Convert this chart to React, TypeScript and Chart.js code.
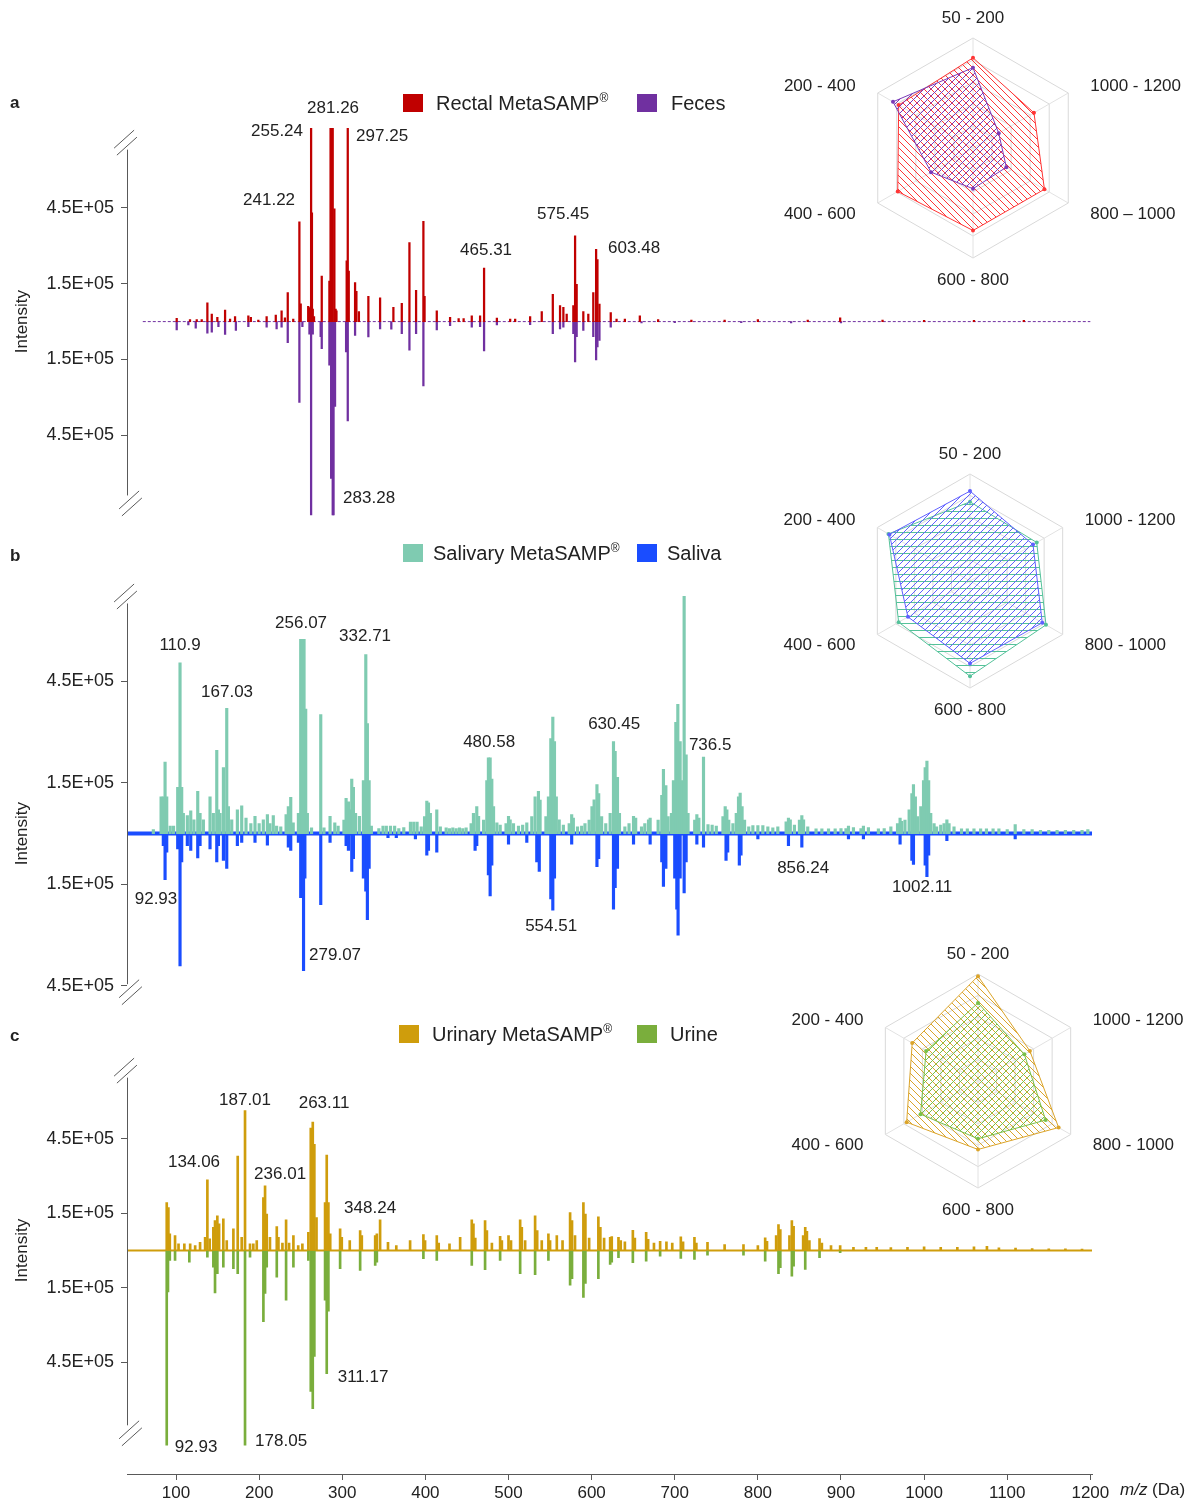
import React, { useEffect, useRef } from 'react';
import { Chart, registerables } from 'chart.js';

Chart.register(...registerables);

const FONT = '"Liberation Sans", Arial, Helvetica, sans-serif';
Chart.defaults.font.family = FONT;
Chart.defaults.color = '#222';

type Pair = [number, number];
type Label = [string, number, number];

// ---------- shared m/z axis ----------
const MZ_MIN = 41;
const MZ_MAX = 1202;
const MZ_TICKS = [100, 200, 300, 400, 500, 600, 700, 800, 900, 1000, 1100, 1200];
const Y_TICKS = [-4.5e5, -1.5e5, 1.5e5, 4.5e5];

// ---------- colours ----------
const RECTAL_COLOR = '#c00000';
const FECES_COLOR = '#7030a0';
const SALIVARY_COLOR = '#7fcbb1';
const SALIVA_COLOR = '#1a4dff';
const URINARY_COLOR = '#cf9d0c';
const URINE_COLOR = '#7aae3c';

// ---------- panel a: Rectal MetaSAMP (up) vs Feces (down), [m/z, intensity] ----------
const rectalPeaks: Pair[] = [
  [100.8, 0.13e5], [116.8, 0.08e5], [124.9, 0.08e5], [130.9, 0.08e5], [137.7, 0.74e5], [143, 0.3e5],
  [149.7, 0.17e5], [159, 0.46e5], [165, 0.1e5], [171, 0.2e5], [187, 0.23e5], [190, 0.17e5], [199, 0.06e5],
  [209, 0.2e5], [220, 0.26e5], [227, 0.43e5], [231, 0.15e5], [234.4, 1.15e5], [241, 0.1e5], [248.4, 3.95e5],
  [250, 0.7e5], [259, 0.6e5], [260.5, 0.55e5], [262.5, 9.2e5], [263.5, 4.3e5], [264.5, 0.5e5], [266, 0.2e5],
  [275.3, 1.8e5], [284.5, 1.6e5], [285.9, 9.2e5], [287.1, 9.2e5], [288.5, 9.2e5], [290.5, 4.46e5], [292, 0.5e5],
  [293, 0.43e5], [305.3, 2.4e5], [306.6, 9.2e5], [307.8, 2.0e5], [315.4, 1.54e5], [317, 1.2e5], [320, 0.4e5],
  [331.4, 1.0e5], [345.5, 0.94e5], [361.5, 0.56e5], [371.6, 0.72e5], [380.8, 3.12e5], [388.8, 1.24e5],
  [397.6, 3.97e5], [399, 1.0e5], [413.7, 0.43e5], [429.7, 0.17e5], [440, 0.12e5], [446, 0.12e5], [455.8, 0.23e5],
  [465.8, 0.23e5], [470.6, 2.12e5], [486, 0.14e5], [502, 0.1e5], [508, 0.1e5], [526, 0.2e5], [540, 0.4e5],
  [553.3, 1.08e5], [562, 0.63e5], [566, 0.56e5], [570, 0.3e5], [578, 0.63e5], [580.1, 3.39e5], [582, 1.47e5],
  [590, 0.4e5], [596, 0.3e5], [602, 1.15e5], [605.4, 2.86e5], [607, 2.45e5], [609.4, 0.69e5], [623, 0.36e5],
  [630, 0.1e5], [640, 0.1e5], [658, 0.23e5], [680, 0.08e5], [720, 0.06e5], [760, 0.06e5], [800, 0.08e5],
  [860, 0.06e5], [899, 0.15e5], [950, 0.06e5], [1000, 0.05e5], [1060, 0.05e5], [1120, 0.05e5],
];
const fecesPeaks: Pair[] = [
  [100.8, 0.33e5], [114.8, 0.13e5], [123.7, 0.26e5], [137.7, 0.46e5], [143, 0.42e5], [151, 0.2e5], [159, 0.51e5],
  [172, 0.35e5], [187, 0.2e5], [209, 0.22e5], [221, 0.29e5], [227, 0.22e5], [234.4, 0.83e5], [248.4, 3.2e5],
  [252, 0.2e5], [260.5, 0.5e5], [261.3, 0.48e5], [262.5, 9.2e5], [264.5, 0.5e5], [274, 0.6e5], [275.3, 1.07e5],
  [284.5, 1.72e5], [286.6, 6.2e5], [288.5, 9.2e5], [289.5, 9.2e5], [291.3, 3.35e5], [304.6, 1.2e5], [306.6, 3.93e5],
  [315.4, 0.55e5], [331.4, 0.61e5], [345.5, 0.29e5], [359, 0.3e5], [371.6, 0.48e5], [380.8, 1.13e5], [388.8, 0.48e5],
  [397.6, 2.54e5], [413.7, 0.33e5], [429.7, 0.16e5], [455.8, 0.22e5], [465.8, 0.2e5], [470.6, 1.16e5], [486, 0.13e5],
  [526, 0.12e5], [553.3, 0.48e5], [562, 0.29e5], [566, 0.22e5], [578, 0.48e5], [580.1, 1.59e5], [582, 0.6e5],
  [590, 0.35e5], [602, 0.6e5], [605.4, 1.52e5], [607, 1.0e5], [609.4, 0.74e5], [623, 0.22e5], [660, 0.05e5],
  [700, 0.04e5], [780, 0.04e5], [840, 0.05e5], [900, 0.05e5],
];
const baselineA: Pair[] = [[60, 0], [1200, 0]];
const labelsA: Label[] = [
  ['281.26', 288.9, 8.44e5], ['255.24', 221.5, 7.54e5], ['297.25', 347.9, 7.34e5], ['241.22', 211.9, 4.8e5],
  ['465.31', 473, 2.81e5], ['575.45', 565.7, 4.26e5], ['603.48', 651.1, 2.89e5], ['283.28', 332.3, -6.99e5],
];

// ---------- panel b: Salivary MetaSAMP (up) vs Saliva (down) ----------
const salivaryPeaks: Pair[] = [
  [72.7, 0.12e5], [82, 1.09e5], [84.7, 1.09e5], [86.8, 2.11e5], [88.8, 1.09e5], [93, 0.22e5], [97, 0.22e5],
  [102, 1.37e5], [104.8, 5.05e5], [106.8, 1.37e5], [108.8, 0.6e5], [113.6, 0.53e5], [117.7, 0.67e5], [121.5, 0.41e5],
  [126.1, 1.25e5], [128.9, 0.6e5], [132.9, 0.41e5], [140.9, 1.09e5], [144.9, 0.6e5], [149, 2.46e5], [151, 0.7e5],
  [153, 0.6e5], [157, 1.95e5], [161, 3.7e5], [163, 0.8e5], [167, 0.41e5], [173.8, 0.7e5], [179, 0.82e5],
  [184.2, 0.46e5], [190, 0.3e5], [195, 0.51e5], [200, 0.3e5], [205, 0.41e5], [209.9, 0.56e5], [213, 0.3e5],
  [217, 0.53e5], [221, 0.22e5], [226, 0.2e5], [232.4, 0.56e5], [235.1, 0.8e5], [238, 1.07e5], [241, 0.32e5],
  [247.2, 0.6e5], [250, 5.74e5], [251.3, 5.74e5], [252.5, 5.74e5], [254, 5.74e5], [256, 3.68e5], [258, 0.6e5],
  [263, 0.17e5], [274.1, 3.52e5], [278, 0.17e5], [285.3, 0.51e5], [291, 0.32e5], [295, 0.22e5], [302, 0.4e5],
  [304.6, 1.04e5], [307.4, 0.94e5], [309.4, 0.7e5], [311.4, 1.61e5], [313.4, 1.37e5], [316, 0.6e5], [320.6, 0.51e5],
  [325.4, 1.57e5], [328.3, 5.29e5], [330.2, 3.25e5], [332.3, 1.57e5], [335, 0.22e5], [344, 0.15e5], [349, 0.22e5],
  [353, 0.22e5], [358, 0.22e5], [363, 0.22e5], [368, 0.15e5], [374, 0.18e5], [382, 0.34e5], [386, 0.34e5],
  [390, 0.34e5], [395, 0.2e5], [399, 0.5e5], [401.7, 0.96e5], [403.7, 0.91e5], [406, 0.6e5], [413.7, 0.7e5],
  [418, 0.2e5], [425, 0.17e5], [429, 0.15e5], [433, 0.17e5], [437, 0.15e5], [441, 0.17e5], [445, 0.15e5],
  [449, 0.17e5], [455, 0.3e5], [457.8, 0.6e5], [461.8, 0.8e5], [464, 0.51e5], [470, 0.4e5], [473.9, 1.57e5],
  [475.8, 2.24e5], [477.9, 2.24e5], [479.9, 1.61e5], [482, 0.8e5], [486, 0.32e5], [490, 0.25e5], [497, 0.3e5],
  [500, 0.51e5], [502, 0.41e5], [506, 0.3e5], [512, 0.22e5], [517, 0.25e5], [522, 0.32e5], [528, 0.5e5],
  [532, 1.09e5], [536, 1.25e5], [538, 0.99e5], [545, 0.5e5], [548, 1.09e5], [550.9, 2.81e5], [553.3, 3.44e5],
  [555.3, 2.72e5], [557.5, 1.09e5], [561, 0.41e5], [566, 0.25e5], [573, 0.3e5], [576, 0.56e5], [578, 0.46e5],
  [583, 0.2e5], [588, 0.22e5], [592, 0.3e5], [597, 0.4e5], [600.4, 0.8e5], [603, 1.0e5], [606.4, 1.45e5],
  [608.5, 1.18e5], [612, 0.5e5], [617, 0.3e5], [622.3, 0.6e5], [626.3, 2.72e5], [628.3, 2.43e5], [631.1, 1.66e5],
  [633.5, 0.6e5], [640, 0.2e5], [645, 0.3e5], [650.4, 0.51e5], [653, 0.46e5], [660, 0.2e5], [664, 0.3e5],
  [668.4, 0.41e5], [670.4, 0.46e5], [680, 0.4e5], [684.4, 1.13e5], [686.4, 1.9e5], [689.3, 1.42e5], [692, 0.5e5],
  [696, 0.6e5], [698.4, 1.57e5], [701.3, 3.29e5], [703.7, 3.82e5], [706.5, 2.72e5], [708.5, 1.57e5], [711.3, 7.01e5],
  [713.7, 2.33e5], [716, 0.6e5], [724, 0.4e5], [726.6, 0.56e5], [729, 0.46e5], [734.6, 2.26e5], [740, 0.27e5],
  [745, 0.25e5], [750, 0.22e5], [758, 0.5e5], [760.7, 0.8e5], [762.7, 0.7e5], [765, 0.4e5], [770, 0.3e5],
  [774, 0.6e5], [776.7, 1.09e5], [778.7, 1.2e5], [781, 0.8e5], [784, 0.4e5], [789, 0.2e5], [794, 0.24e5],
  [800, 0.24e5], [806, 0.24e5], [812, 0.2e5], [818, 0.17e5], [824, 0.2e5], [834, 0.35e5], [836.8, 0.46e5],
  [839, 0.41e5], [844, 0.25e5], [850, 0.4e5], [852.9, 0.53e5], [855, 0.41e5], [860, 0.2e5], [870, 0.14e5],
  [877, 0.14e5], [885, 0.14e5], [893, 0.14e5], [900, 0.15e5], [906, 0.15e5], [909, 0.22e5], [915, 0.18e5],
  [924, 0.15e5], [927, 0.22e5], [933, 0.18e5], [945, 0.14e5], [952, 0.15e5], [960, 0.2e5], [968, 0.3e5],
  [971.1, 0.46e5], [973, 0.36e5], [977, 0.4e5], [982, 0.7e5], [985.3, 1.18e5], [987.2, 1.45e5], [989.5, 1.09e5],
  [992, 0.5e5], [996, 0.8e5], [999.3, 1.57e5], [1001.3, 1.95e5], [1003.4, 2.14e5], [1005.5, 1.57e5], [1008, 0.6e5],
  [1012, 0.3e5], [1015, 0.2e5], [1020, 0.25e5], [1024, 0.3e5], [1027.4, 0.41e5], [1030, 0.3e5], [1036, 0.2e5],
  [1045, 0.14e5], [1052, 0.14e5], [1060, 0.14e5], [1068, 0.14e5], [1075, 0.14e5], [1083, 0.14e5], [1090, 0.14e5],
  [1100, 0.12e5], [1109.6, 0.27e5], [1120, 0.12e5], [1130, 0.12e5], [1140, 0.1e5], [1150, 0.1e5], [1160, 0.1e5],
  [1170, 0.1e5], [1180, 0.1e5], [1190, 0.1e5], [1197, 0.12e5],
];
const salivaPeaks: Pair[] = [
  [84.7, 0.36e5], [86.8, 1.36e5], [88.8, 0.55e5], [102, 0.45e5], [104.8, 3.91e5], [106.8, 0.84e5], [113.6, 0.36e5],
  [117.7, 0.5e5], [126.1, 0.72e5], [128.9, 0.36e5], [140.9, 0.45e5], [149, 0.84e5], [151, 0.36e5], [157, 0.79e5],
  [161, 1.03e5], [173.8, 0.36e5], [179, 0.26e5], [195, 0.26e5], [209.9, 0.34e5], [235.1, 0.4e5], [238, 0.5e5],
  [247.2, 0.26e5], [250, 1.89e5], [252.5, 1.89e5], [253.4, 4.05e5], [255, 1.32e5], [274.1, 2.1e5], [285.3, 0.26e5],
  [304.6, 0.36e5], [307.4, 0.5e5], [311.4, 1.12e5], [313.4, 0.74e5], [325.4, 1.32e5], [328.3, 1.7e5], [330.2, 2.54e5],
  [332.3, 1.03e5], [355, 0.12e5], [365, 0.12e5], [388, 0.16e5], [401.7, 0.64e5], [403.7, 0.5e5], [413.7, 0.55e5],
  [459.8, 0.5e5], [461.8, 0.36e5], [475.8, 1.22e5], [477.9, 1.84e5], [479.9, 0.93e5], [500, 0.31e5], [522, 0.26e5],
  [534, 0.84e5], [537, 1.12e5], [550.9, 1.93e5], [553.3, 2.26e5], [555.3, 1.32e5], [576, 0.31e5], [606.4, 0.98e5],
  [608.5, 0.74e5], [626.3, 2.23e5], [628.3, 1.6e5], [631.1, 1.03e5], [650.4, 0.31e5], [670.4, 0.31e5], [684.4, 0.84e5],
  [686.4, 1.56e5], [689.3, 1.03e5], [700, 1.32e5], [702.5, 2.23e5], [704, 3.0e5], [706.5, 1.32e5], [711.3, 1.75e5],
  [713.7, 0.84e5], [726.6, 0.31e5], [734.6, 0.4e5], [761.7, 0.79e5], [763.7, 0.55e5], [777.7, 0.93e5], [779.7, 0.64e5],
  [800, 0.16e5], [836.8, 0.36e5], [852.9, 0.4e5], [909, 0.16e5], [927, 0.16e5], [971.1, 0.31e5], [985.3, 0.79e5],
  [987.2, 0.91e5], [1001.3, 0.93e5], [1003.4, 1.27e5], [1005.5, 0.64e5], [1027.4, 0.21e5], [1109.6, 0.16e5],
];
const baselineB: Pair[] = [[MZ_MIN, 0], [MZ_MAX, 0]];
const labelsB: Label[] = [
  ['110.9', 104.8, 5.56e5], ['167.03', 161.4, 4.18e5], ['256.07', 250.4, 6.22e5], ['332.71', 327.4, 5.82e5],
  ['480.58', 476.7, 2.71e5], ['630.45', 627.1, 3.23e5], ['736.5', 742.6, 2.62e5], ['92.93', 75.9, -1.93e5],
  ['279.07', 291.3, -3.6e5], ['554.51', 551.3, -2.74e5], ['856.24', 854.5, -1.04e5], ['1002.11', 997.7, -1.59e5],
];

// ---------- panel c: Urinary MetaSAMP (up) vs Urine (down) ----------
const urinaryPeaks: Pair[] = [
  [88.8, 1.93e5], [90.8, 1.73e5], [92.5, 0.67e5], [98.8, 0.6e5], [103, 0.27e5], [110, 0.27e5], [117, 0.27e5],
  [123, 0.2e5], [128.9, 0.33e5], [135, 0.53e5], [137.7, 2.84e5], [140.5, 0.47e5], [144.9, 0.93e5], [146.9, 1.2e5],
  [149.7, 1.4e5], [151.8, 1.07e5], [156.9, 1.27e5], [161, 0.4e5], [169, 0.87e5], [174.2, 3.8e5], [179, 0.53e5],
  [183, 5.63e5], [189, 0.27e5], [193, 0.27e5], [197.1, 0.4e5], [205.1, 2.13e5], [207.1, 2.6e5], [209.1, 1.47e5],
  [213, 0.53e5], [221.2, 0.96e5], [223.2, 0.53e5], [228, 0.3e5], [232.4, 1.23e5], [236, 0.3e5], [241.2, 0.6e5],
  [247, 0.2e5], [252, 0.27e5], [259.2, 0.73e5], [262.1, 4.93e5], [264.5, 5.17e5], [266.4, 4.27e5], [269, 1.33e5],
  [279.3, 1.93e5], [281.3, 3.84e5], [283.3, 1.93e5], [285.5, 0.67e5], [297.4, 0.87e5], [299.4, 0.53e5], [309, 0.4e5],
  [321.5, 0.8e5], [323.5, 0.6e5], [339.6, 0.6e5], [341.6, 0.67e5], [345.5, 1.23e5], [355, 0.33e5], [365, 0.2e5],
  [381.6, 0.4e5], [397.6, 0.64e5], [399.6, 0.4e5], [413.7, 0.6e5], [416, 0.3e5], [429, 0.27e5], [441.8, 0.53e5],
  [455.8, 1.23e5], [457.8, 1.07e5], [460, 0.5e5], [471.8, 1.2e5], [474, 0.8e5], [480, 0.3e5], [489.9, 0.57e5],
  [492, 0.4e5], [500, 0.6e5], [503, 0.4e5], [514, 1.23e5], [516, 0.93e5], [520, 0.4e5], [532, 1.4e5], [534.5, 0.8e5],
  [540, 0.4e5], [548, 0.67e5], [550, 0.4e5], [558.1, 0.6e5], [565, 0.4e5], [574.1, 1.53e5], [576.4, 1.2e5],
  [580, 0.6e5], [590.1, 1.93e5], [592.5, 1.47e5], [597, 0.5e5], [608.1, 1.36e5], [610.5, 0.93e5], [615, 0.5e5],
  [622.3, 0.53e5], [624.2, 0.56e5], [632.3, 0.53e5], [635, 0.4e5], [640, 0.35e5], [649.6, 0.81e5], [652, 0.5e5],
  [665.6, 0.73e5], [668, 0.45e5], [675, 0.3e5], [682.4, 0.37e5], [690, 0.35e5], [697, 0.3e5], [707.3, 0.55e5],
  [710, 0.35e5], [723.7, 0.53e5], [726, 0.3e5], [739.4, 0.33e5], [760, 0.24e5], [782.7, 0.24e5], [800, 0.2e5],
  [808.8, 0.51e5], [811, 0.37e5], [822, 0.6e5], [824.8, 1.04e5], [827, 0.84e5], [838, 0.6e5], [840.9, 1.2e5],
  [843, 0.97e5], [854.5, 0.6e5], [857, 0.93e5], [859, 0.77e5], [862, 0.4e5], [874.2, 0.48e5], [877, 0.3e5],
  [888, 0.2e5], [899, 0.2e5], [915, 0.13e5], [930, 0.13e5], [943, 0.13e5], [960, 0.12e5], [980, 0.13e5],
  [1000, 0.15e5], [1020, 0.13e5], [1040, 0.13e5], [1060, 0.15e5], [1075.6, 0.17e5], [1090, 0.11e5], [1110, 0.1e5],
  [1130, 0.08e5], [1150, 0.07e5], [1170, 0.07e5], [1190, 0.06e5],
];
const urinePeaks: Pair[] = [
  [88.8, 7.84e5], [90.3, 1.67e5], [92.5, 0.4e5], [98.8, 0.4e5], [116, 0.47e5], [137.7, 0.27e5], [144.9, 0.67e5],
  [146.9, 1.71e5], [149.7, 0.93e5], [156.9, 0.67e5], [169, 0.73e5], [174.2, 0.93e5], [183, 7.84e5], [189, 0.27e5],
  [205.1, 2.87e5], [207.1, 1.73e5], [209.1, 0.67e5], [221.2, 1.07e5], [232.4, 2.0e5], [241.2, 0.67e5], [259.2, 0.4e5],
  [262.1, 5.67e5], [264.5, 6.37e5], [266.4, 4.27e5], [279.3, 2.0e5], [281.3, 4.96e5], [283.3, 2.44e5], [297.4, 0.73e5],
  [321.5, 0.8e5], [339.6, 0.6e5], [341.6, 0.47e5], [397.6, 0.33e5], [413.7, 0.4e5], [455.8, 0.6e5], [471.8, 0.77e5],
  [489.9, 0.4e5], [514, 0.93e5], [532, 0.97e5], [548, 0.4e5], [574.1, 1.4e5], [576.4, 1.13e5], [590.1, 1.89e5],
  [592.5, 1.33e5], [608.1, 1.13e5], [622.3, 0.56e5], [624.2, 0.47e5], [632.3, 0.29e5], [649.6, 0.49e5],
  [665.6, 0.43e5], [682.4, 0.23e5], [707.3, 0.32e5], [723.7, 0.36e5], [739.4, 0.19e5], [782.7, 0.19e5],
  [808.8, 0.43e5], [824.8, 0.93e5], [827, 0.69e5], [840.9, 1.03e5], [843, 0.63e5], [857, 0.76e5], [874.2, 0.29e5],
  [899, 0.09e5],
];
const baselineC: Pair[] = [[MZ_MIN, 0], [MZ_MAX, 0]];
const labelsC: Label[] = [
  ['187.01', 183, 6.04e5], ['263.11', 278.1, 5.92e5], ['134.06', 121.7, 3.56e5], ['236.01', 225.2, 3.08e5],
  ['348.24', 333.5, 1.68e5], ['92.93', 124.1, -7.92e5], ['178.05', 226.4, -7.68e5], ['311.17', 325, -5.12e5],
];

// ---------- radar insets (share of each m/z range, outer ring = 1) ----------
const RADAR_LABELS_A = ['50 - 200', '1000 - 1200', '800 \u2013 1000', '600 - 800', '400 - 600', '200 - 400'];
const RADAR_LABELS = ['50 - 200', '1000 - 1200', '800 - 1000', '600 - 800', '400 - 600', '200 - 400'];
const rectalRadar = [0.82, 0.64, 0.75, 0.75, 0.79, 0.78];
const fecesRadar = [0.73, 0.27, 0.35, 0.37, 0.44, 0.84];
const salivaryRadar = [0.74, 0.72, 0.82, 0.89, 0.77, 0.88];
const salivaRadar = [0.84, 0.68, 0.78, 0.77, 0.67, 0.87];
const urinaryRadar = [0.98, 0.56, 0.87, 0.64, 0.77, 0.71];
const urineRadar = [0.73, 0.5, 0.73, 0.54, 0.62, 0.56];

// ---------- helpers ----------
function fmtSci(v: number): string {
  const [m, e] = Math.abs(v).toExponential(1).split('e');
  const sign = e[0] === '-' ? '-' : '+';
  return `${m}E${sign}${e.replace(/[+-]/, '').padStart(2, '0')}`;
}

function hatch(color: string, kind: 'down' | 'up' | 'horiz', size = 7): CanvasPattern | string {
  const c = document.createElement('canvas');
  c.width = size;
  c.height = size;
  const g = c.getContext('2d');
  if (!g) return color;
  g.strokeStyle = color;
  g.lineWidth = 1;
  g.beginPath();
  if (kind === 'horiz') {
    g.moveTo(0, size / 2);
    g.lineTo(size, size / 2);
  } else if (kind === 'down') {
    g.moveTo(-1, -1); g.lineTo(size + 1, size + 1);
    g.moveTo(-1, size - 1); g.lineTo(1, size + 1);
    g.moveTo(size - 1, -1); g.lineTo(size + 1, 1);
  } else {
    g.moveTo(-1, size + 1); g.lineTo(size + 1, -1);
    g.moveTo(-1, 1); g.lineTo(1, -1);
    g.moveTo(size - 1, size + 1); g.lineTo(size + 1, size - 1);
  }
  g.stroke();
  return g.createPattern(c, 'repeat') || color;
}

interface PanelSpec {
  top: number; height: number; padTop: number; padBottom: number;
  yMin: number; yMax: number; axisTop: number; axisBottom: number;
  up: Pair[]; down: Pair[]; upColor: string; downColor: string;
  baseline: Pair[]; baselineColor: string; baselineWidth: number; baselineDash: number[];
  labels: Label[]; showX: boolean; barWidth: number;
}

const PANELS: PanelSpec[] = [
  {
    top: 73, height: 460, padTop: 55, padBottom: 13, yMin: -7.656e5, yMax: 7.656e5, axisTop: 6.8e5, axisBottom: -6.875e5,
    up: rectalPeaks, down: fecesPeaks, upColor: RECTAL_COLOR, downColor: FECES_COLOR,
    baseline: baselineA, baselineColor: FECES_COLOR, baselineWidth: 1, baselineDash: [3, 2],
    labels: labelsA, showX: false, barWidth: 1.6,
  },
  {
    top: 562, height: 462, padTop: 13, padBottom: 13, yMin: -5.1e5, yMax: 7.5e5, axisTop: 6.8e5, axisBottom: -4.45e5,
    up: salivaryPeaks, down: salivaPeaks, upColor: SALIVARY_COLOR, downColor: SALIVA_COLOR,
    baseline: baselineB, baselineColor: SALIVA_COLOR, baselineWidth: 4, baselineDash: [],
    labels: labelsB, showX: false, barWidth: 2.5,
  },
  {
    top: 1035, height: 468, padTop: 15, padBottom: 0, yMin: -9.0e5, yMax: 7.96e5, axisTop: 6.96e5, axisBottom: -7.04e5,
    up: urinaryPeaks, down: urinePeaks, upColor: URINARY_COLOR, downColor: URINE_COLOR,
    baseline: baselineC, baselineColor: URINARY_COLOR, baselineWidth: 2, baselineDash: [],
    labels: labelsC, showX: true, barWidth: 2,
  },
];

function decorPlugin(p: PanelSpec) {
  return {
    id: 'msDecor',
    afterDraw(chart: any) {
      const ctx: CanvasRenderingContext2D = chart.ctx;
      const xs = chart.scales.x;
      const ys = chart.scales.y;
      const ax = Math.round(chart.chartArea.left) + 0.5;
      const yTop = ys.getPixelForValue(p.axisTop);
      const yBot = ys.getPixelForValue(p.axisBottom);
      ctx.save();
      ctx.strokeStyle = '#595959';
      ctx.lineWidth = 1;
      ctx.beginPath();
      ctx.moveTo(ax, yTop);
      ctx.lineTo(ax, yBot);
      ctx.stroke();
      const marks: [number, number][] = [[ax - 2, yTop - 7], [ax + 3, yBot + 8]];
      for (const [cx, cy] of marks) {
        for (const off of [-3.5, 3.5]) {
          ctx.beginPath();
          ctx.moveTo(cx - 10 + off * 0.4, cy + off + 9);
          ctx.lineTo(cx + 10 + off * 0.4, cy + off - 9);
          ctx.stroke();
        }
      }
      ctx.fillStyle = '#222';
      ctx.font = `17px ${FONT}`;
      ctx.textAlign = 'center';
      ctx.textBaseline = 'middle';
      ctx.save();
      ctx.translate(22, ys.getPixelForValue(0));
      ctx.rotate(-Math.PI / 2);
      ctx.fillText('Intensity', 0, 0);
      ctx.restore();
      for (const [t, mz, v] of p.labels) {
        ctx.fillText(t, xs.getPixelForValue(mz), ys.getPixelForValue(v));
      }
      ctx.restore();
    },
  };
}

function spectrumConfig(p: PanelSpec): any {
  const xScale: any = {
    type: 'linear', min: MZ_MIN, max: MZ_MAX, offset: false, display: p.showX,
    grid: { drawOnChartArea: false, drawTicks: true, tickLength: 6, color: '#595959', offset: false },
    border: { display: true, color: '#595959' },
    ticks: { font: { size: 17 }, color: '#222', padding: 3, maxRotation: 0, callback: (v: number) => String(v) },
    afterBuildTicks: (s: any) => { s.ticks = MZ_TICKS.map((v) => ({ value: v })); },
  };
  if (p.showX) xScale.afterFit = (s: any) => { s.height = 29; };
  return {
    type: 'bar',
    data: {
      datasets: [
        {
          type: 'line', data: p.baseline.map(([x, y]) => ({ x, y })), borderColor: p.baselineColor,
          borderWidth: p.baselineWidth, borderDash: p.baselineDash, pointRadius: 0, fill: false, order: 3,
        },
        {
          data: p.down.map(([x, y]) => ({ x, y: -y })), backgroundColor: p.downColor, barThickness: p.barWidth,
          grouped: false, borderWidth: 0, order: 2,
        },
        {
          data: p.up.map(([x, y]) => ({ x, y })), backgroundColor: p.upColor, barThickness: p.barWidth,
          grouped: false, borderWidth: 0, order: 1,
        },
      ],
    },
    options: {
      responsive: false,
      animation: false,
      events: [],
      layout: { padding: { top: p.padTop, bottom: p.padBottom, left: 0, right: 99 } },
      plugins: { legend: { display: false }, tooltip: { enabled: false } },
      scales: {
        x: xScale,
        y: {
          type: 'linear', min: p.yMin, max: p.yMax,
          grid: { drawOnChartArea: false, drawTicks: true, tickLength: 6, color: '#595959' },
          border: { display: false },
          ticks: { font: { size: 18 }, color: '#222', padding: 7, callback: (v: number) => fmtSci(v) },
          afterBuildTicks: (s: any) => { s.ticks = Y_TICKS.map((v) => ({ value: v })); },
          afterFit: (s: any) => { s.width = 127; },
        },
      },
    },
    plugins: [decorPlugin(p)],
  };
}

interface RadarSpec {
  cx: number; cy: number; R: number; labels: string[];
  sets: { values: number[]; color: string; kind: 'down' | 'up' | 'horiz' }[];
}

const RADAR_W = 420;
const RADAR_H = 300;

const RADARS: RadarSpec[] = [
  {
    cx: 973, cy: 148, R: 110, labels: RADAR_LABELS_A,
    sets: [
      { values: fecesRadar, color: '#7a3ab8', kind: 'up' },
      { values: rectalRadar, color: '#ff3535', kind: 'down' },
    ],
  },
  {
    cx: 970, cy: 581, R: 107, labels: RADAR_LABELS,
    sets: [
      { values: salivaRadar, color: '#6060ff', kind: 'up' },
      { values: salivaryRadar, color: '#55c29a', kind: 'horiz' },
    ],
  },
  {
    cx: 978, cy: 1081, R: 107, labels: RADAR_LABELS,
    sets: [
      { values: urineRadar, color: '#78c04a', kind: 'up' },
      { values: urinaryRadar, color: '#dba42a', kind: 'down' },
    ],
  },
];

function radarLabelPlugin(r: RadarSpec) {
  return {
    id: 'radarLabels',
    afterDraw(chart: any) {
      const s = chart.scales.r;
      const ctx: CanvasRenderingContext2D = chart.ctx;
      const R = s.drawingArea;
      ctx.save();
      ctx.font = `17px ${FONT}`;
      ctx.fillStyle = '#222';
      ctx.textBaseline = 'middle';
      r.labels.forEach((t, i) => {
        const p = s.getPointPosition(i, R);
        const dx = p.x - s.xCenter;
        const dy = p.y - s.yCenter;
        let x = p.x;
        let y = p.y;
        if (Math.abs(dx) < 1) {
          ctx.textAlign = 'center';
          y += dy < 0 ? -20 : 22;
        } else {
          ctx.textAlign = dx > 0 ? 'left' : 'right';
          x += dx > 0 ? 22 : -22;
          y += dy < 0 ? -7 : 11;
        }
        ctx.fillText(t, x, y);
      });
      ctx.restore();
    },
  };
}

function radarConfig(r: RadarSpec): any {
  const padX = RADAR_W / 2 - r.R;
  const padY = RADAR_H / 2 - r.R;
  return {
    type: 'radar',
    data: {
      labels: r.labels,
      datasets: r.sets.map((s) => ({
        data: s.values, borderColor: s.color, backgroundColor: hatch(s.color, s.kind), borderWidth: 1,
        pointRadius: 2, pointBackgroundColor: s.color, pointBorderWidth: 0, fill: true,
      })),
    },
    options: {
      responsive: false,
      animation: false,
      events: [],
      layout: { padding: { left: padX, right: padX, top: padY, bottom: padY } },
      plugins: { legend: { display: false }, tooltip: { enabled: false } },
      scales: {
        r: {
          min: 0, max: 1,
          ticks: { display: false, stepSize: 0.2 },
          grid: { color: '#d9d9d9' },
          angleLines: { color: '#e2e2e2' },
          pointLabels: { display: false },
        },
      },
    },
    plugins: [radarLabelPlugin(r)],
  };
}

const LEGENDS = [
  { y: 103, items: [
    { text: 'Rectal MetaSAMP', sup: true, color: RECTAL_COLOR, sq: 403, tx: 436 },
    { text: 'Feces', sup: false, color: FECES_COLOR, sq: 637, tx: 671 },
  ] },
  { y: 553, items: [
    { text: 'Salivary MetaSAMP', sup: true, color: SALIVARY_COLOR, sq: 403, tx: 433 },
    { text: 'Saliva', sup: false, color: SALIVA_COLOR, sq: 637, tx: 667 },
  ] },
  { y: 1034, items: [
    { text: 'Urinary MetaSAMP', sup: true, color: URINARY_COLOR, sq: 399, tx: 432 },
    { text: 'Urine', sup: false, color: URINE_COLOR, sq: 637, tx: 670 },
  ] },
];

const PANEL_LETTERS: [string, number][] = [['a', 103], ['b', 556], ['c', 1036]];

export default function App() {
  const specRefs = useRef<(HTMLCanvasElement | null)[]>([]);
  const radarRefs = useRef<(HTMLCanvasElement | null)[]>([]);

  useEffect(() => {
    const charts: Chart[] = [];
    PANELS.forEach((p, i) => {
      const el = specRefs.current[i];
      if (el) charts.push(new Chart(el, spectrumConfig(p)));
    });
    RADARS.forEach((r, i) => {
      const el = radarRefs.current[i];
      if (el) charts.push(new Chart(el, radarConfig(r)));
    });
    return () => charts.forEach((c) => c.destroy());
  }, []);

  return (
    <div style={{ position: 'absolute', left: 0, top: 0, width: 1191, height: 1503, background: '#fff', fontFamily: FONT, color: '#222', overflow: 'hidden' }}>
      {PANELS.map((p, i) => (
        <canvas
          key={`s${i}`}
          ref={(el) => { specRefs.current[i] = el; }}
          width={1191}
          height={p.height}
          style={{ position: 'absolute', left: 0, top: p.top, width: 1191, height: p.height }}
        />
      ))}
      {RADARS.map((r, i) => (
        <canvas
          key={`r${i}`}
          ref={(el) => { radarRefs.current[i] = el; }}
          width={RADAR_W}
          height={RADAR_H}
          style={{ position: 'absolute', left: r.cx - RADAR_W / 2, top: r.cy - RADAR_H / 2, width: RADAR_W, height: RADAR_H }}
        />
      ))}
      {LEGENDS.map((lg, i) => (
        <React.Fragment key={`l${i}`}>
          {lg.items.map((it, j) => (
            <React.Fragment key={j}>
              <div style={{ position: 'absolute', left: it.sq, top: lg.y - 9, width: 20, height: 18, background: it.color }} />
              <div style={{ position: 'absolute', left: it.tx, top: lg.y - 12, fontSize: 20, lineHeight: '24px', whiteSpace: 'nowrap' }}>
                {it.text}
                {it.sup ? <sup style={{ fontSize: 12, lineHeight: 0 }}>®</sup> : null}
              </div>
            </React.Fragment>
          ))}
        </React.Fragment>
      ))}
      {PANEL_LETTERS.map(([t, y]) => (
        <div key={t} style={{ position: 'absolute', left: 10, top: y - 10, fontSize: 17, fontWeight: 'bold', lineHeight: '20px' }}>{t}</div>
      ))}
      <div style={{ position: 'absolute', left: 1120, top: 1480, fontSize: 17, lineHeight: '20px', whiteSpace: 'nowrap' }}>
        <i>m/z</i> (Da)
      </div>
    </div>
  );
}
